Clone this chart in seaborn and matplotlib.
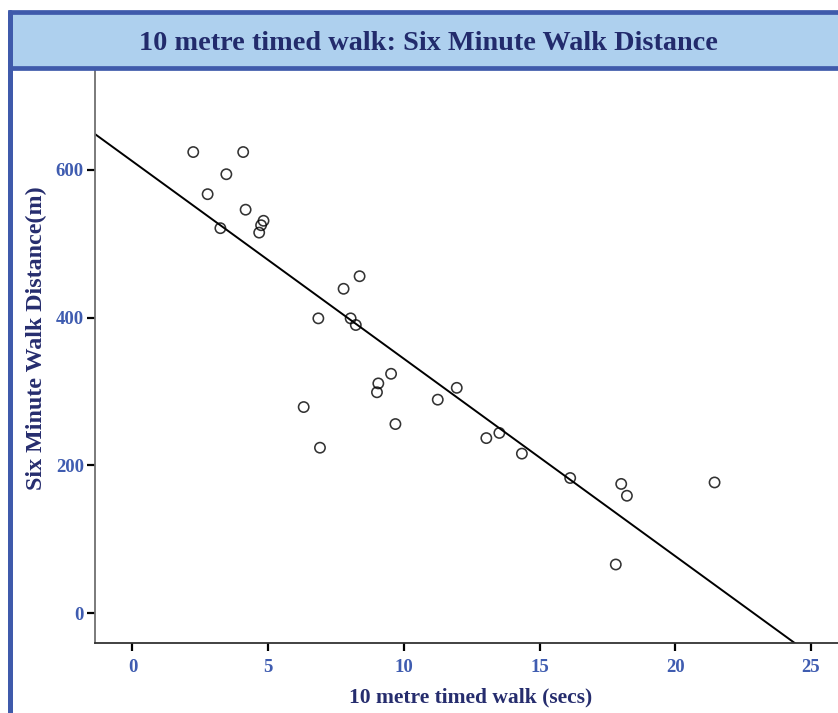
import matplotlib
matplotlib.use("Agg")
import matplotlib.pyplot as plt
from matplotlib.patches import Rectangle
from matplotlib.lines import Line2D
import seaborn as sns
import pandas as pd

# 10 metre timed walk (secs) and six minute walk distance (m) per participant
walk_10m_secs = [2.24, 4.08, 3.46, 2.77, 4.17, 3.24, 4.83, 4.74, 4.67, 8.37,
                 7.78, 6.85, 8.04, 8.23, 9.53, 9.06, 9.01, 11.95, 11.25, 6.31,
                 9.69, 6.91, 13.04, 13.52, 14.35, 16.13, 18.01, 18.22, 21.45, 17.81]
six_min_walk_m = [624, 624, 594, 567, 546, 521, 531, 525, 515, 456,
                  439, 399, 399, 390, 324, 311, 299, 305, 289, 279,
                  256, 224, 237, 244, 216, 183, 175, 159, 177, 66]

x_ticks = [0, 5, 10, 15, 20, 25]
y_ticks = [0, 200, 400, 600]

title_text = "10 metre timed walk: Six Minute Walk Distance"
x_label = "10 metre timed walk (secs)"
y_label = "Six Minute Walk Distance(m)"

df = pd.DataFrame({"walk10": walk_10m_secs, "smwd": six_min_walk_m})

sns.set_theme(style="white")
plt.rcParams["font.family"] = ["Liberation Serif", "DejaVu Serif"]

W, H = 838, 713
fig = plt.figure(figsize=(W / 100, H / 100), dpi=100)
fig.patch.set_facecolor("white")

def fx(px):
    return px / W

def fy(py):
    return 1 - py / H

ax = fig.add_axes([fx(95), fy(642.7), fx(838) - fx(95) + 0.002, fy(70) - fy(642.7)])
ax.set_facecolor("white")
ax.set_xlim(-1.38, 26.06)
ax.set_ylim(-39.8, 735)

sns.regplot(data=df, x="walk10", y="smwd", ax=ax, ci=None, truncate=False,
            scatter_kws=dict(s=55, facecolors="none", edgecolors="black",
                             linewidths=1.15, zorder=3),
            line_kws=dict(color="black", lw=1.4, zorder=2))

tick_color = "#3F5CB0"
label_color = "#262D6E"
ax.set_xticks(x_ticks)
ax.set_yticks(y_ticks)
ax.tick_params(axis="both", direction="out", length=6, width=1.6, color="black",
               labelsize=13.5, labelcolor=tick_color, pad=4)
ax.tick_params(axis="x", bottom=True, pad=6)
ax.tick_params(axis="y", left=True, pad=2)
for lab in ax.get_xticklabels() + ax.get_yticklabels():
    lab.set_fontweight("bold")

for side in ["top", "right"]:
    ax.spines[side].set_visible(False)
ax.spines["left"].set_color("#707070")
ax.spines["left"].set_linewidth(1.3)
ax.spines["bottom"].set_color("#333333")
ax.spines["bottom"].set_linewidth(1.3)

ax.set_xlabel("")
ax.set_ylabel("")
fig.text(fx(471), fy(697), x_label, ha="center", va="center", fontsize=15.5,
         fontweight="bold", color=label_color)
fig.text(fx(36), fy(338), y_label, ha="center", va="center", fontsize=17.3,
         fontweight="bold", color=label_color, rotation=90)

# framed title banner and left border
border = "#3F5AAB"
fig.add_artist(Rectangle((fx(9.5), fy(67.5)), fx(840) - fx(9.5), fy(12) - fy(67.5),
                         transform=fig.transFigure, facecolor="#AED0EE",
                         edgecolor=border, linewidth=3.4, clip_on=False, zorder=5))
fig.add_artist(Line2D([fx(9.5), fx(9.5)], [fy(12), fy(716)], transform=fig.transFigure,
                      color=border, linewidth=3.6, zorder=6))
fig.text(fx(428), fy(43), title_text, ha="center", va="center", fontsize=20.3,
         fontweight="bold", color="#222B6C", zorder=7)

fig.savefig("out.png", dpi=100)
